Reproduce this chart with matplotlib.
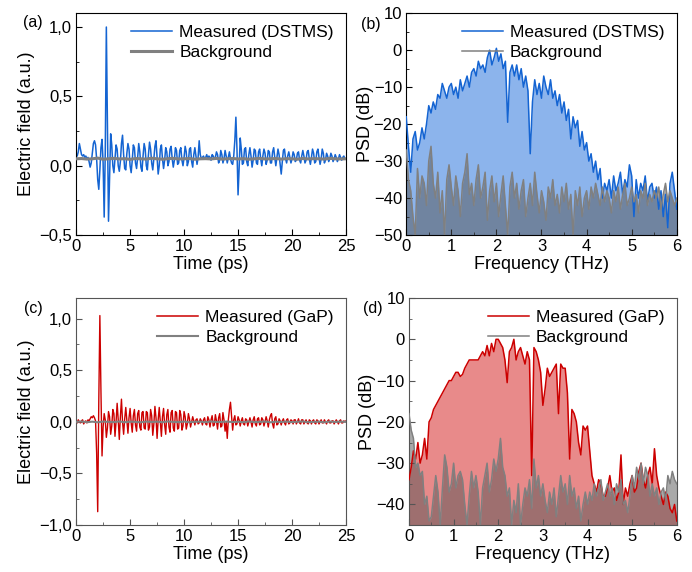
import numpy as np
import matplotlib
matplotlib.use("Agg")
import matplotlib.pyplot as plt
from matplotlib.ticker import MultipleLocator, FuncFormatter
from matplotlib.lines import Line2D

plt.rcParams['font.family'] = ['Liberation Sans', 'DejaVu Sans']
plt.rcParams['font.size'] = 12

# time grids (ps)
t_fine = np.round(np.arange(0, 25.01, 0.1), 2)
t_bg = np.round(np.arange(0, 25.01, 0.5), 2)
# frequency grid (THz)
freq = np.round(np.arange(0, 6.001, 0.05), 2)

# (a) DSTMS time trace
field_dstms = [
    0.08, 0.07, 0.10, 0.16, 0.12, 0.08, 0.07, 0.08, 0.06, 0.07,
    0.05, 0.06, 0.03, -0.01, 0.02, 0.09, 0.16, 0.18, 0.15, 0.05,
    -0.10, -0.17, -0.03, 0.13, 0.19, 0.02, -0.37, 0.10, 1.00, 0.30,
    -0.40, -0.10, 0.23, 0.15, 0.00, -0.05, 0.05, 0.15, 0.12, 0.00,
    -0.04, 0.03, 0.16, 0.22, 0.08, -0.02, -0.03, 0.09, 0.16, 0.12,
    0.00, -0.05, 0.04, 0.15, 0.13, 0.02, -0.02, 0.06, 0.16, 0.10,
    -0.01, -0.04, 0.07, 0.16, 0.12, 0.00, -0.03, 0.08, 0.17, 0.12,
    0.02, -0.03, 0.05, 0.14, 0.18, 0.06, -0.06, 0.00, 0.12, 0.15,
    0.05, -0.02, 0.04, 0.13, 0.10, 0.00, 0.03, 0.12, 0.14, 0.05,
    -0.01, 0.04, 0.13, 0.11, 0.01, 0.02, 0.11, 0.13, 0.04, 0.00,
    0.06, 0.14, 0.10, 0.00, 0.03, 0.12, 0.13, 0.03, -0.01, 0.08,
    0.13, 0.07, 0.01, 0.06, 0.18, 0.08, 0.05, 0.06, 0.07, 0.05,
    0.06, 0.08, 0.05, 0.07, 0.06, 0.04, 0.08, 0.07, 0.05, 0.06,
    0.10, 0.08, 0.02, 0.04, 0.11, 0.08, 0.02, 0.05, 0.11, 0.07,
    0.02, 0.06, 0.10, 0.05, 0.02, 0.01, 0.07, 0.18, 0.35, 0.12,
    -0.21, -0.02, 0.20, 0.12, 0.01, 0.02, 0.12, 0.13, 0.03, 0.00,
    0.08, 0.13, 0.07, -0.01, 0.04, 0.12, 0.11, 0.02, 0.01, 0.10,
    0.12, 0.05, 0.00, 0.07, 0.12, 0.09, 0.01, 0.04, 0.11, 0.10,
    0.02, 0.02, 0.10, 0.13, 0.06, 0.00, 0.06, 0.12, 0.08, 0.01,
    -0.06, 0.03, 0.11, 0.12, 0.05, 0.02, 0.07, 0.10, 0.06, 0.02,
    0.05, 0.10, 0.08, 0.03, 0.04, 0.09, 0.10, 0.04, 0.02, 0.07,
    0.11, 0.07, 0.02, 0.04, 0.10, 0.11, 0.05, 0.01, 0.06, 0.12,
    0.09, 0.02, 0.03, 0.10, 0.12, 0.06, 0.01, 0.05, 0.12, 0.09,
    0.02, 0.04, 0.09, 0.07, 0.03, 0.05, 0.09, 0.07, 0.03, 0.05,
    0.08, 0.06, 0.03, 0.05, 0.08, 0.06, 0.04, 0.06, 0.07, 0.05,
    0.05,
]
field_bg_a = [
    0.050, 0.052, 0.048, 0.050, 0.055, 0.047, 0.050, 0.053, 0.049, 0.051,
    0.046, 0.052, 0.050, 0.048, 0.054, 0.050, 0.047, 0.051, 0.053, 0.049,
    0.050, 0.052, 0.047, 0.050, 0.051, 0.049, 0.053, 0.048, 0.050, 0.052,
    0.049, 0.051, 0.047, 0.050, 0.053, 0.049, 0.050, 0.052, 0.048, 0.051,
    0.050, 0.047, 0.052, 0.049, 0.051, 0.050, 0.048, 0.053, 0.050, 0.049,
    0.050,
]

# (c) GaP time trace
field_gap = [
    0.01, -0.01, 0.02, 0.00, -0.01, 0.01, 0.02, -0.02, 0.00, 0.01,
    -0.01, 0.02, 0.01, 0.03, 0.05, 0.04, 0.06, 0.04, 0.01, -0.30,
    -0.87, 0.20, 1.03, 0.30, -0.33, -0.05, 0.08, 0.02, -0.15, -0.06,
    0.10, 0.05, -0.12, -0.04, 0.12, 0.08, -0.14, 0.00, 0.18, 0.02,
    -0.17, 0.05, 0.22, 0.00, -0.12, 0.03, 0.14, 0.01, -0.11, 0.04,
    0.13, -0.01, -0.10, 0.06, 0.12, -0.03, -0.09, 0.08, 0.11, -0.05,
    -0.08, 0.09, 0.10, -0.06, -0.07, 0.10, 0.09, -0.08, -0.05, 0.12,
    0.06, -0.13, -0.02, 0.15, 0.04, -0.16, 0.02, 0.14, 0.00, -0.14,
    0.05, 0.13, -0.03, -0.12, 0.07, 0.12, -0.05, -0.10, 0.09, 0.11,
    -0.06, -0.09, 0.10, 0.09, -0.07, -0.06, 0.11, 0.07, -0.08, -0.04,
    0.10, 0.05, -0.07, -0.02, 0.08, 0.03, -0.05, 0.00, 0.05, 0.01,
    -0.03, 0.02, 0.03, -0.02, -0.01, 0.03, 0.01, -0.03, 0.02, 0.04,
    -0.02, -0.03, 0.05, 0.02, -0.05, 0.02, 0.06, -0.04, -0.03, 0.07,
    0.01, -0.07, 0.04, 0.08, -0.05, -0.04, 0.09, 0.02, -0.09, 0.00,
    -0.16, 0.02, 0.12, 0.19, 0.05, -0.08, 0.02, 0.06, -0.03, -0.02,
    0.05, 0.02, -0.04, 0.01, 0.04, -0.02, -0.03, 0.03, 0.02, -0.04,
    0.00, 0.04, 0.00, -0.05, 0.02, 0.05, -0.02, -0.04, 0.03, 0.04,
    -0.03, -0.02, 0.04, 0.02, -0.04, 0.00, 0.05, 0.01, -0.05, 0.02,
    0.06, 0.08, -0.02, -0.06, 0.03, 0.05, -0.03, -0.02, 0.03, 0.01,
    -0.03, 0.01, 0.03, -0.01, -0.03, 0.02, 0.03, -0.02, -0.01, 0.02,
    0.01, -0.02, 0.02, 0.02, -0.02, 0.00, 0.03, -0.01, -0.02, 0.02,
    0.02, -0.02, 0.00, 0.02, -0.01, -0.02, 0.02, 0.01, -0.02, 0.01,
    0.02, -0.01, -0.02, 0.02, 0.01, -0.02, 0.00, 0.02, -0.01, -0.01,
    0.02, 0.00, -0.02, 0.01, 0.02, -0.01, -0.01, 0.01, 0.01, -0.02,
    0.00, 0.02, 0.00, -0.02, 0.01, 0.02, -0.01, -0.01, 0.01, 0.00,
    0.01,
]
field_bg_c = [
    0.000, 0.004, -0.003, 0.002, -0.004, 0.003, 0.000, -0.002, 0.004, -0.003,
    0.002, 0.000, -0.004, 0.003, -0.001, 0.002, -0.003, 0.004, 0.000, -0.002,
    0.003, -0.004, 0.001, 0.002, -0.003, 0.004, -0.001, 0.000, 0.003, -0.002,
    0.001, -0.003, 0.004, -0.002, 0.000, 0.003, -0.004, 0.002, -0.001, 0.003,
    -0.002, 0.001, 0.004, -0.003, 0.000, 0.002, -0.004, 0.003, -0.001, 0.002,
    0.000,
]

# (b) DSTMS spectrum (dB)
psd_dstms = [
    -18, -26, -33, -24, -22, -27, -25, -21, -24, -20,
    -15, -17, -14, -16, -12, -13, -9, -11, -13, -10,
    -9, -12, -10, -13, -8, -11, -9, -7, -10, -6,
    -5, -7, -3, -5, -4, -6, -2, 0, -4, -2,
    0.5, -3, -1, -5, -3, -19.5, -6, -4, -7, -4,
    -8, -5, -10, -7, -11, -28, -14, -8, -12, -9,
    -13, -7, -10, -12, -8, -13, -11, -15, -12, -17,
    -14, -19, -16, -24, -18, -21, -19, -26, -22, -27,
    -25, -30, -28, -33, -30, -35, -32, -40, -36, -38,
    -35, -40, -34, -38, -36, -33, -39, -35, -37, -31,
    -34, -45, -35, -40, -36, -38, -34, -41, -37, -36,
    -40, -37, -43, -38, -45, -39, -48, -36, -33, -38,
    -43,
]
psd_bg_b = [
    -27, -35, -38, -45, -50, -32, -40, -34, -36, -42,
    -30, -26, -36, -40, -33, -44, -38, -50, -35, -31,
    -37, -42, -34, -38, -45, -36, -33, -28, -39, -36,
    -42, -35, -31, -40, -37, -33, -46, -38, -34, -41,
    -36, -45, -39, -34, -42, -50, -37, -33, -40, -36,
    -43, -38, -35, -45, -40, -36, -42, -33, -39, -44,
    -38, -41, -46, -37, -40, -35, -42, -39, -44, -37,
    -41, -36, -43, -39, -50, -38, -42, -37, -45, -40,
    -38, -43, -37, -40, -36, -39, -42, -37, -41, -38,
    -40, -44, -38, -41, -37, -43, -39, -36, -42, -40,
    -37, -41, -39, -44, -38, -40, -36, -42, -39, -41,
    -38, -40, -37, -43, -39, -36, -41, -38, -40, -42,
    -40,
]

# (d) GaP spectrum (dB)
psd_gap = [
    -34, -31, -27, -29, -25, -30, -28, -24, -29, -20,
    -19, -17, -16, -15, -14, -13, -12, -11, -10, -10,
    -9, -8, -8, -9, -8.5, -7, -6, -5, -5, -5,
    -5, -5, -4, -3, -4, -1.5, -4, -1, -3, 0,
    0, -1, -2, -5, -10.5, -3, -2, 0, -5, -3,
    -2, -4, -6, -3, -5, -33, -2, -3, -5, -8,
    -16, -12, -7, -9, -8, -7, -6, -18, -6, -7,
    -7, -13, -29, -17, -18, -20, -25, -28, -21, -22,
    -21, -27, -33, -35, -37, -34, -35, -38, -38, -36,
    -33, -37, -36, -39, -37, -28, -40, -36, -38, -35,
    -33, -37, -36, -32, -30, -34, -36, -33, -31, -35,
    -26.5, -33, -36, -38, -40, -37, -38, -41, -42, -40,
    -44,
]
psd_bg_d = [
    -18, -22, -24, -31, -30, -33, -32, -40, -38, -44,
    -43, -38, -33, -37, -45, -36, -28, -31, -37, -35,
    -30, -36, -33, -32, -34, -40, -45, -38, -32, -36,
    -33, -37, -45, -36, -33, -30, -37, -34, -29, -32,
    -29, -24, -31, -33, -38, -36, -45, -39, -42, -35,
    -45, -40, -36, -38, -34, -41, -29, -36, -33, -38,
    -35, -39, -42, -37, -40, -36, -43, -38, -33, -37,
    -35, -40, -33, -38, -36, -41, -38, -44, -40, -37,
    -40, -37, -39, -35, -38, -36, -34, -39, -37, -35,
    -38, -36, -40, -35, -37, -34, -40, -39, -42, -38,
    -33, -36, -31, -34, -30, -35, -31, -33, -38, -35,
    -38, -36, -40, -37, -36, -39, -33, -35, -32, -34,
    -35,
]

BLUE = '#1464d2'
BLUE_FILL = '#8cb4ec'
RED = '#cc0000'
RED_FILL = '#e88a8a'
GRAY = '#808080'

TICK_FS = 12
LABEL_FS = 13
LEG_FS = 12.5


def comma_fmt(v, pos):
    return f"{v:.1f}".replace('.', ',').replace('-', '\u2212')


def int_fmt(v, pos):
    return f"{v:g}".replace('-', '\u2212')


def style_axes(ax, spine_color='black'):
    ax.tick_params(which='both', direction='in', top=False, right=False,
                   labelsize=TICK_FS, color=spine_color, pad=3)
    ax.tick_params(which='major', length=4)
    ax.tick_params(which='minor', length=2)
    for sp in ax.spines.values():
        sp.set_color(spine_color)


def add_legend(ax, color, lw_bg, label):
    ax.legend([Line2D([], [], color=color, lw=1.1), Line2D([], [], color=GRAY, lw=lw_bg)],
              [label, 'Background'], loc='upper right', frameon=False,
              fontsize=LEG_FS, handlelength=2.4, handletextpad=0.4,
              borderaxespad=0.3, labelspacing=0.25)


fig = plt.figure(figsize=(6.92, 5.72), dpi=100)

ax_a = fig.add_axes([0.110, 0.589, 0.390, 0.388])
ax_b = fig.add_axes([0.587, 0.589, 0.391, 0.388])
ax_c = fig.add_axes([0.110, 0.082, 0.390, 0.397])
ax_d = fig.add_axes([0.591, 0.082, 0.387, 0.397])

# (a)
ax_a.plot(t_bg, field_bg_a, color=GRAY, lw=2.2, zorder=3)
ax_a.plot(t_fine, field_dstms, color=BLUE, lw=1.1, zorder=2)
ax_a.set_xlim(0, 25)
ax_a.set_ylim(-0.5, 1.1)
ax_a.xaxis.set_major_locator(MultipleLocator(5))
ax_a.xaxis.set_minor_locator(MultipleLocator(2.5))
ax_a.yaxis.set_major_locator(MultipleLocator(0.5))
ax_a.yaxis.set_minor_locator(MultipleLocator(0.25))
ax_a.yaxis.set_major_formatter(FuncFormatter(comma_fmt))
ax_a.set_xlabel('Time (ps)', fontsize=LABEL_FS, labelpad=1)
ax_a.set_ylabel('Electric field (a.u.)', fontsize=LABEL_FS, labelpad=3)
style_axes(ax_a)
add_legend(ax_a, BLUE, 2.2, 'Measured (DSTMS)')

# (b)
ax_b.fill_between(freq, psd_dstms, -60, color=BLUE_FILL, lw=0, zorder=1)
ax_b.fill_between(freq, psd_bg_b, -60, color='#555555', alpha=0.5, lw=0, zorder=2)
ax_b.plot(freq, psd_dstms, color=BLUE, lw=1.1, zorder=3)
ax_b.plot(freq, psd_bg_b, color=GRAY, lw=1.1, zorder=4)
ax_b.set_xlim(0, 6)
ax_b.set_ylim(-50, 10)
ax_b.xaxis.set_major_locator(MultipleLocator(1))
ax_b.xaxis.set_minor_locator(MultipleLocator(0.5))
ax_b.yaxis.set_major_locator(MultipleLocator(10))
ax_b.yaxis.set_minor_locator(MultipleLocator(5))
ax_b.yaxis.set_major_formatter(FuncFormatter(int_fmt))
ax_b.set_xlabel('Frequency (THz)', fontsize=LABEL_FS, labelpad=1)
ax_b.set_ylabel('PSD (dB)', fontsize=LABEL_FS, labelpad=0)
style_axes(ax_b)
add_legend(ax_b, BLUE, 1.1, 'Measured (DSTMS)')

# (c)
ax_c.plot(t_bg, field_bg_c, color=GRAY, lw=1.5, zorder=3)
ax_c.plot(t_fine, field_gap, color=RED, lw=1.0, zorder=2)
ax_c.set_xlim(0, 25)
ax_c.set_ylim(-1.0, 1.2)
ax_c.xaxis.set_major_locator(MultipleLocator(5))
ax_c.xaxis.set_minor_locator(MultipleLocator(2.5))
ax_c.yaxis.set_major_locator(MultipleLocator(0.5))
ax_c.yaxis.set_minor_locator(MultipleLocator(0.25))
ax_c.yaxis.set_major_formatter(FuncFormatter(comma_fmt))
ax_c.set_xlabel('Time (ps)', fontsize=LABEL_FS, labelpad=1)
ax_c.set_ylabel('Electric field (a.u.)', fontsize=LABEL_FS, labelpad=3)
style_axes(ax_c, '#555555')
add_legend(ax_c, RED, 1.5, 'Measured (GaP)')

# (d)
ax_d.fill_between(freq, psd_gap, -60, color=RED_FILL, lw=0, zorder=1)
ax_d.fill_between(freq, psd_bg_d, -60, color='#555555', alpha=0.5, lw=0, zorder=2)
ax_d.plot(freq, psd_gap, color=RED, lw=1.1, zorder=3)
ax_d.plot(freq, psd_bg_d, color=GRAY, lw=1.1, zorder=4)
ax_d.set_xlim(0, 6)
ax_d.set_ylim(-45, 10)
ax_d.xaxis.set_major_locator(MultipleLocator(1))
ax_d.xaxis.set_minor_locator(MultipleLocator(0.5))
ax_d.yaxis.set_major_locator(MultipleLocator(10))
ax_d.yaxis.set_minor_locator(MultipleLocator(5))
ax_d.yaxis.set_major_formatter(FuncFormatter(int_fmt))
ax_d.set_xlabel('Frequency (THz)', fontsize=LABEL_FS, labelpad=1)
ax_d.set_ylabel('PSD (dB)', fontsize=LABEL_FS, labelpad=0)
style_axes(ax_d, '#555555')
add_legend(ax_d, RED, 1.1, 'Measured (GaP)')

# panel letters (pixel positions of the reference)
for (px, py), lab in [((33, 23), '(a)'), ((371, 25), '(b)'),
                      ((33, 308), '(c)'), ((373, 309), '(d)')]:
    fig.text(px / 692, 1 - py / 572, lab, ha='center', va='center', fontsize=11.5)

fig.savefig('out.png', dpi=100)
